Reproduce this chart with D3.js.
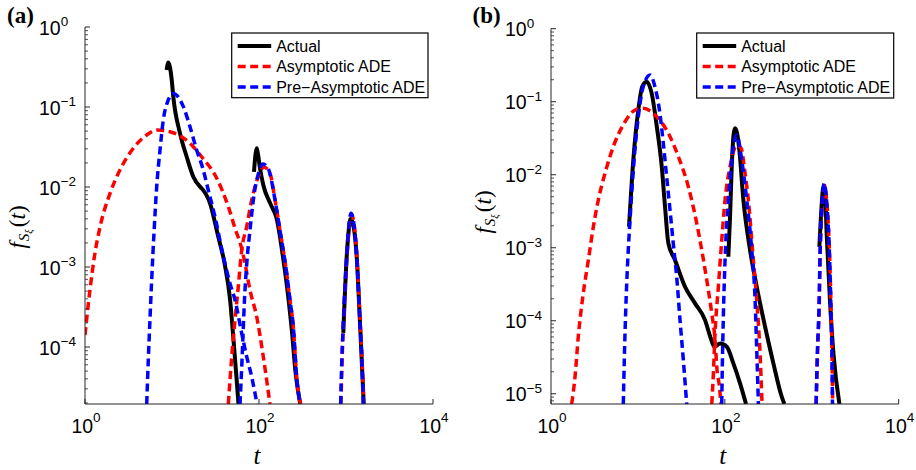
<!DOCTYPE html>
<html><head><meta charset="utf-8">
<script src="https://cdn.jsdelivr.net/npm/d3@7"></script>
<style>html,body{margin:0;padding:0;background:#fff;}svg{display:block;}</style>
</head><body>
<svg id="chart" width="916" height="470"></svg>
<script>
// ---- data: segments of [t, f] pairs ----
const xTicks = [1, 100, 10000];
const yTicksA = [1, 0.1, 0.01, 0.001, 0.0001];
const yTicksB = [1, 0.1, 0.01, 0.001, 0.0001, 0.00001];
const xDomain = [1, 10000];
const yDomainA = [1.94e-5, 1];
const yDomainB = [7.24e-6, 1];
const seriesNames = ["Actual", "Asymptotic ADE", "Pre\u2212Asymptotic ADE"];
const panelLabels = ["(a)", "(b)"];

const aActual = [
  [[8.69,0.29],[9.06,0.36],[9.93,0.2175],[10.35,0.1345],[12.36,0.0469],[14.75,0.0239],[17.57,0.01345],[20.98,0.0101],[21.9,0.00964],[27.35,0.00626],[34.0,0.0024],[40.6,0.00105],[46.4,4.0e-4],[50.7,1.3e-4],[55.4,3.87e-5],[58.1,1.94e-5]],
  [[87.6,0.0155],[94.1,0.0305],[96.5,0.027],[102.6,0.0173],[112,0.0106],[135,0.0062],[159.8,0.004],[190.3,0.00125],[217.1,4.2e-4],[240,1.5e-4],[262,5.0e-5],[298,1.94e-5]],
  [[931,1.5e-4],[1019,0.00135],[1082,0.00307],[1127,0.00398],[1188,0.00365],[1327,0.00135],[1449,1.98e-4],[1600,1.94e-5]]
];
const aAsym = [
  [[1,1.41e-4],[1.14,5.16e-4],[1.30,0.00148],[1.49,0.00319],[1.94,0.00834],[2.52,0.0163],[3.59,0.0305],[5.12,0.0447],[6.72,0.0516],[9.48,0.0491],[16.1,0.0352],[21.9,0.0239],[32.7,0.01285],[44.4,0.00567],[53.0,0.00305],[63.3,0.0017],[69.0,0.00111],[78.8,5.16e-4],[94.1,2.39e-4],[112,7.57e-5],[133.7,1.94e-5]],
  [[44.4,1.94e-5],[48.6,7.57e-5],[53.0,2.18e-4],[57.8,5.67e-4],[63.3,0.00163],[72.2,0.00319],[82.4,0.00688],[98.2,0.01345],[114,0.0178],[133.7,0.0148],[152.8,0.0069],[174,0.0029],[208,8.4e-4],[227,3.87e-4],[248,1.79e-4],[271,4.25e-5],[300,1.94e-5]],
  [[875,1.94e-5],[900,6.25e-5],[935,1.98e-4],[1025,0.00135],[1090,0.0033],[1150,0.0045],[1210,0.004],[1335,0.00135],[1455,1.98e-4],[1535,6.25e-5],[1590,1.94e-5]]
];
const aPre = [
  [[5.12,1.94e-5],[5.34,6.88e-5],[5.58,2.18e-4],[5.84,6.88e-4],[6.21,0.00266],[6.67,0.0101],[7.28,0.029],[7.94,0.0688],[9.06,0.1224],[10.35,0.148],[13.5,0.101],[16.1,0.0567],[19.2,0.029],[22.9,0.0163],[26.1,0.00917],[31.2,0.00425],[38.9,0.00135],[46.4,6.25e-4],[53.0,3.87e-4],[63.3,1.48e-4],[72.2,7.57e-5],[82.4,4.25e-5],[94.8,1.94e-5]],
  [[60.5,1.94e-5],[63.8,6.88e-5],[68.1,3.87e-4],[72.8,0.00122],[78.8,0.0029],[87.6,0.00794],[97.5,0.0141],[111.2,0.0194],[126.8,0.0173],[152.8,0.0069],[174,0.0029],[208,8.4e-4],[227,3.87e-4],[248,1.79e-4],[271,4.25e-5],[296,1.94e-5]],
  [[869,1.94e-5],[893,6.25e-5],[931,1.98e-4],[1019,0.00135],[1082,0.00335],[1140,0.00469],[1202,0.0041],[1327,0.00135],[1449,1.98e-4],[1528,6.25e-5],[1581,1.94e-5]]
];

const bActual = [
  [[7.90,0.00194],[8.85,0.0159],[10.1,0.0769],[11.2,0.16],[12.6,0.188],[14.4,0.13],[16.5,0.0455],[18.8,0.0129],[20.5,0.00365],[22.4,0.00115],[26.7,6.79e-4],[34.8,2.92e-4],[45.4,1.73e-4],[59.2,1.02e-4],[67.6,6.17e-5],[75.7,4.4e-5],[88.1,4.87e-5],[105.2,4.4e-5],[125.3,2.61e-5],[149.6,1.39e-5],[175.4,7.24e-6]],
  [[109.7,7.53e-4],[114.8,0.00266],[120,0.0129],[126,0.035],[131,0.0432],[138,0.0373],[146.8,0.0218],[163.4,0.0045],[195,9.29e-4],[232.8,2.92e-4],[290.4,8.28e-5],[361.7,2.61e-5],[451.6,9.1e-6],[484,7.24e-6]],
  [[1223,0.00103],[1303,0.00406],[1349,0.00657],[1404,0.00679],[1489,0.00142],[1625,1.73e-4],[1775,3.57e-5],[2080,7.24e-6]]
];
const bAsym = [
  [[1.73,7.24e-6],[1.89,1.71e-5],[2.06,6.04e-5],[2.35,2.37e-4],[2.69,6.79e-4],[3.07,0.00194],[3.50,0.0045],[4.18,0.01045],[5.21,0.0242],[7.11,0.0532],[9.27,0.0769],[11.5,0.0812],[15.7,0.0658],[22.4,0.0369],[29.2,0.0177],[38.0,0.00685],[47.5,0.00216],[54.2,9.29e-4],[61.9,3.61e-4],[70.7,1.26e-4],[77.1,5.44e-5],[80.7,2.34e-5],[88.1,1.01e-5],[89.7,7.24e-6]],
  [[70.7,7.24e-6],[73.8,1.9e-5],[77.1,6.72e-5],[84.2,2.92e-4],[92.1,0.00127],[100.5,0.0045],[114.8,0.0129],[138,0.0255],[153.6,0.0232],[170.8,0.01045],[186.4,0.0045],[212.7,6.79e-4],[232.8,1.92e-4],[254.1,3.57e-5],[268,7.24e-6]],
  [[1125,7.24e-6],[1165,3.57e-5],[1220,1.73e-4],[1250,8.38e-4],[1310,0.00328],[1395,0.0072],[1495,0.00406],[1600,8.38e-4],[1662,1.73e-4],[1708,3.57e-5],[1740,7.24e-6]]
];
const bPre = [
  [[6.79,7.24e-6],[6.97,2.9e-5],[7.24,1.4e-4],[7.64,6.79e-4],[8.11,0.00239],[8.85,0.0116],[10.1,0.0623],[11.5,0.16],[13.8,0.232],[15.7,0.16],[17.9,0.0693],[19.6,0.0269],[21.4,0.0094],[23.4,0.00328],[25.5,0.00115],[27.9,4.01e-4],[30.5,1.02e-4],[33.3,2.9e-5],[36.4,7.24e-6]],
  [[92.1,7.24e-6],[93.5,2.34e-5],[96.1,1.13e-4],[100.5,6.79e-4],[109.7,0.0045],[120,0.0159],[137,0.035],[156.4,0.0159],[178.6,0.0045],[204,9.29e-4],[222.8,1.92e-4],[232.8,3.97e-5],[243.2,7.24e-6]],
  [[1120,7.24e-6],[1159,3.57e-5],[1213,1.73e-4],[1245,8.38e-4],[1303,0.00328],[1387,0.00762],[1489,0.00406],[1596,8.38e-4],[1656,1.73e-4],[1702,3.57e-5],[1730,7.24e-6]]
];

// ---- styles ----
const styles = [
  {color:"#000000", width:4, dash:null},
  {color:"#ff0000", width:3.5, dash:"8,4.5"},
  {color:"#0000ff", width:3.5, dash:"8,4.5"}
];

const panels = [
  {x0:85, x1:433, yTop:27, yBot:404, yDomain:yDomainA, yTicks:yTicksA, series:[aActual,aAsym,aPre], label:panelLabels[0], labelX:7, legend:{x:231.7,y:33,w:196.3,h:64.7}, ylab:[18,227]},
  {x0:551, x1:898.7, yTop:28.7, yBot:404, yDomain:yDomainB, yTicks:yTicksB, series:[bActual,bAsym,bPre], label:panelLabels[1], labelX:472.5, legend:{x:696.7,y:33,w:197,h:65}, ylab:[483.5,212]}
];

const svg = d3.select("#chart");
svg.append("rect").attr("width",916).attr("height",470).attr("fill","#fff");
const sansFont = "'Liberation Sans', Arial, sans-serif";
const serifFont = "'Liberation Serif', 'Times New Roman', serif";
const axisColor = "#262626";

panels.forEach((p, pi) => {
  const x = d3.scaleLog().domain(xDomain).range([p.x0, p.x1]);
  const y = d3.scaleLog().domain(p.yDomain).range([p.yBot, p.yTop]);
  const g = svg.append("g");
  const clipId = "clip" + pi;
  svg.append("clipPath").attr("id", clipId).append("rect")
    .attr("x", p.x0).attr("y", p.yTop - 5).attr("width", p.x1 - p.x0).attr("height", p.yBot - p.yTop + 5);

  // curves
  const line = d3.line().x(d => x(d[0])).y(d => y(d[1])).curve(d3.curveMonotoneX);
  const cg = g.append("g").attr("clip-path", `url(#${clipId})`);
  p.series.forEach((segs, si) => {
    const st = styles[si];
    segs.forEach(seg => {
      cg.append("path").attr("d", line(seg)).attr("fill","none")
        .attr("stroke", st.color).attr("stroke-width", st.width)
        .attr("stroke-dasharray", st.dash).attr("stroke-linejoin","round");
    });
  });

  // axes lines
  g.append("line").attr("x1",p.x0).attr("x2",p.x0).attr("y1",p.yTop).attr("y2",p.yBot).attr("stroke",axisColor).attr("stroke-width",1);
  g.append("line").attr("x1",p.x0).attr("x2",p.x1).attr("y1",p.yBot).attr("y2",p.yBot).attr("stroke",axisColor).attr("stroke-width",1);

  // y major ticks
  p.yTicks.forEach(d => {
    const yy = y(d);
    g.append("line").attr("x1",p.x0).attr("x2",p.x0+5).attr("y1",yy).attr("y2",yy).attr("stroke",axisColor);
    const e = Math.round(Math.log10(d));
    const t = g.append("text").attr("x", p.x0 - 46).attr("y", yy + 7.5)
      .attr("font-family", sansFont).attr("font-size", 19.5).attr("fill","#000");
    t.append("tspan").text("10");
    t.append("tspan").attr("dy", -8.5).attr("font-size", 13.5).text(e < 0 ? "\u2212" + Math.abs(e) : String(e));
  });
  // y minor ticks
  const lo = Math.floor(Math.log10(p.yDomain[0]));
  for (let k = lo; k < 0; k++) {
    for (let m = 2; m <= 9; m++) {
      const v = m * Math.pow(10, k);
      if (v < p.yDomain[0] || v > p.yDomain[1]) continue;
      const yy = y(v);
      g.append("line").attr("x1",p.x0).attr("x2",p.x0+3).attr("y1",yy).attr("y2",yy).attr("stroke",axisColor).attr("stroke-width",0.8);
    }
  }
  // x ticks
  xTicks.forEach(d => {
    const xx = x(d);
    g.append("line").attr("x1",xx).attr("x2",xx).attr("y1",p.yBot).attr("y2",p.yBot-5).attr("stroke",axisColor);
    const e = Math.round(Math.log10(d));
    const t = g.append("text").attr("x", xx + 1).attr("y", p.yBot + 28.5)
      .attr("text-anchor","middle").attr("font-family", sansFont).attr("font-size", 19.5).attr("fill","#000");
    t.append("tspan").text("10");
    t.append("tspan").attr("dy", -10.5).attr("font-size", 13.5).text(String(e));
  });

  // x label
  g.append("text").attr("x", (p.x0 + p.x1) / 2 - 2).attr("y", 464)
    .attr("text-anchor","middle").attr("font-family", serifFont).attr("font-style","italic")
    .attr("font-size", 25).attr("fill","#000").text("t");

  // y label
  const yl = g.append("text").attr("transform", `translate(${p.ylab[0] + 7},${p.ylab[1]}) rotate(-90)`)
    .attr("text-anchor","middle").attr("font-family", serifFont).attr("font-size", 23).attr("fill","#000");
  yl.append("tspan").attr("font-style","italic").text("f");
  yl.append("tspan").attr("font-style","italic").attr("font-size",15).attr("dy",4).attr("dx",1).text("S");
  yl.append("tspan").attr("font-style","italic").attr("font-size",10.5).attr("dy",3).text("ξ");
  yl.append("tspan").attr("dy",-7).attr("dx",2).text("(");
  yl.append("tspan").attr("font-style","italic").text("t");
  yl.append("tspan").text(")");

  // panel label
  g.append("text").attr("x", p.labelX).attr("y", 23).attr("font-family", serifFont)
    .attr("font-weight","bold").attr("font-size", 23).attr("fill","#000").text(p.label);

  // legend
  const L = p.legend;
  const lg = g.append("g");
  lg.append("rect").attr("x",L.x).attr("y",L.y).attr("width",L.w).attr("height",L.h)
    .attr("fill","#fff").attr("stroke","#000").attr("stroke-width",1.2);
  seriesNames.forEach((name, i) => {
    const ry = L.y + 13 + i * 20.5;
    const st = styles[i];
    lg.append("line").attr("x1", L.x + 6).attr("x2", L.x + 39.5).attr("y1", ry).attr("y2", ry)
      .attr("stroke", st.color).attr("stroke-width", st.width).attr("stroke-dasharray", st.dash);
    lg.append("text").attr("x", L.x + 44.5).attr("y", ry + 5.8).attr("font-family", sansFont)
      .attr("font-size", 16).attr("fill","#000").text(name);
  });
});
</script>
</body></html>
